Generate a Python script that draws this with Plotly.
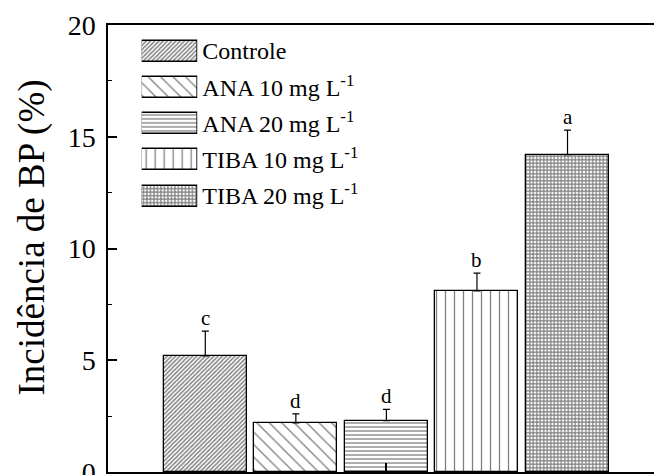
import plotly.graph_objects as go

# Treatments, mean incidence (%) and standard error (upper bar only)
treatments = ["Controle", "ANA 10 mg L<sup>-1</sup>", "ANA 20 mg L<sup>-1</sup>",
              "TIBA 10 mg L<sup>-1</sup>", "TIBA 20 mg L<sup>-1</sup>"]
incidence = [5.2, 2.2, 2.3, 8.1, 14.2]
std_error = [1.1, 0.4, 0.5, 0.8, 1.1]
letters = ["c", "d", "d", "b", "a"]

# Hatch style of each treatment: (shape, tile size, solidity)
hatches = [("/", 3, 0.48), ("\\", 8.8, 0.15), ("-", 4, 0.32), ("|", 9, 0.14), ("+", 3.5, 0.58)]

y_ticks = [0, 5, 10, 15, 20]

FONT = "Liberation Serif"

fig = go.Figure()

for i, (name, val, err, hatch) in enumerate(zip(treatments, incidence, std_error, hatches)):
    shape, size, solidity = hatch
    pattern = dict(shape=shape, size=size, solidity=solidity,
                   fgcolor="black", bgcolor="white", fillmode="overlay")
    fig.add_trace(go.Bar(
        x=[i], y=[val], width=0.916, name=name, showlegend=False,
        marker=dict(color="white", line=dict(color="black", width=1.3), pattern=pattern),
        error_y=dict(type="data", array=[err], arrayminus=[0], symmetric=False,
                     color="black", thickness=1.2, width=3.5),
        xaxis="x", yaxis="y",
    ))
    # Key swatch for the inset legend
    fig.add_trace(go.Bar(
        x=[1], y=[name], orientation="h", width=0.58, showlegend=False,
        marker=dict(color="white", line=dict(color="black", width=1.3), pattern=pattern),
        xaxis="x2", yaxis="y2", hoverinfo="skip",
    ))

# Significance letters above the error bars
for i, (val, err, letter) in enumerate(zip(incidence, std_error, letters)):
    fig.add_annotation(x=i, y=val + err, xref="x", yref="y", text=letter,
                       showarrow=False, yanchor="bottom", yshift=-1,
                       font=dict(family=FONT, size=21, color="black"))

# Y-axis title, placed as a rotated annotation left of the tick labels
fig.add_annotation(text="Incidência de BP (%)", xref="paper", yref="paper",
                   x=0, y=0.5246, xshift=-76, xanchor="center", yanchor="middle",
                   textangle=-90, showarrow=False,
                   font=dict(family=FONT, size=37, color="black"))

fig.update_layout(
    width=654, height=475,
    margin=dict(l=108, r=0, t=25, b=3, autoexpand=False),
    paper_bgcolor="white", plot_bgcolor="white",
    font=dict(family=FONT, color="black"),
    showlegend=False,
    xaxis=dict(
        range=[-1.0745, 4.955], tickvals=[2], showticklabels=False,
        ticks="inside", ticklen=9, tickwidth=1.5, tickcolor="black",
        showline=True, linecolor="black", linewidth=1.5, mirror=True,
        showgrid=False, zeroline=False, automargin=False,
    ),
    yaxis=dict(
        range=[0, 20], tickvals=y_ticks, ticks="inside", ticklen=9, tickwidth=1.5,
        tickcolor="black", ticklabelstandoff=5, ticklabeloverflow="allow",
        minor=dict(dtick=2.5, ticks="inside", ticklen=4, tickwidth=1.2, tickcolor="black"),
        showline=True, linecolor="black", linewidth=1.5, mirror=False,
        showgrid=False, zeroline=False, automargin=False,
        tickfont=dict(family=FONT, size=28, color="black"),
    ),
    xaxis2=dict(domain=[0.0617, 0.1636], anchor="y2", range=[0, 1], visible=False,
                fixedrange=True, automargin=False),
    yaxis2=dict(domain=[0.577, 0.9823], anchor="x2", side="right",
                categoryorder="array", categoryarray=treatments[::-1],
                showline=False, showgrid=False, zeroline=False, ticks="",
                ticklabelstandoff=4, tickfont=dict(family=FONT, size=24, color="black"),
                fixedrange=True, automargin=False),
    bargap=0,
)

fig.write_html("out.html", config={"displayModeBar": False})
